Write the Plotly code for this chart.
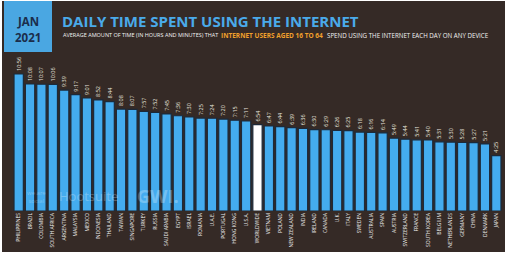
import plotly.graph_objects as go

countries = [
    "PHILIPPINES", "BRAZIL", "COLOMBIA", "SOUTH AFRICA", "ARGENTINA", "MALAYSIA",
    "MEXICO", "INDONESIA", "THAILAND", "TAIWAN", "SINGAPORE", "TURKEY", "RUSSIA",
    "SAUDI ARABIA", "EGYPT", "ISRAEL", "ROMANIA", "U.A.E.", "PORTUGAL", "HONG KONG",
    "U.S.A.", "WORLDWIDE", "VIETNAM", "POLAND", "NEW ZEALAND", "INDIA", "IRELAND",
    "CANADA", "U.K.", "ITALY", "SWEDEN", "AUSTRALIA", "SPAIN", "AUSTRIA",
    "SWITZERLAND", "FRANCE", "SOUTH KOREA", "BELGIUM", "NETHERLANDS", "GERMANY",
    "CHINA", "DENMARK", "JAPAN",
]
times = [
    "10:56", "10:08", "10:07", "10:06", "9:39", "9:17",
    "9:01", "8:52", "8:44", "8:08", "8:07", "7:57", "7:52",
    "7:45", "7:36", "7:30", "7:25", "7:24", "7:20", "7:15",
    "7:11", "6:54", "6:47", "6:44", "6:39", "6:36", "6:30",
    "6:29", "6:26", "6:25", "6:18", "6:16", "6:14", "5:49",
    "5:44", "5:41", "5:40", "5:31", "5:30", "5:28",
    "5:27", "5:21", "4:25",
]
highlight = "WORLDWIDE"

minutes = [int(t.split(":")[0]) * 60 + int(t.split(":")[1]) for t in times]

W, H = 509, 256
ML, MR, MT, MB = 13, 7, 60, 45
PW = W - ML - MR
PH = H - MT - MB


def fx(px):
    return (px - ML) / PW


def fy(py):
    return (H - MB - py) / PH


BG = "#352a26"
BLUE = "#44acef"
colors = ["#ffffff" if c == highlight else BLUE for c in countries]

fig = go.Figure(
    go.Bar(
        x=countries,
        y=minutes,
        text=times,
        textposition="outside",
        textangle=-90,
        textfont=dict(size=5.5, color="#e8e4df", family="Open Sans"),
        marker=dict(color=colors, line=dict(color="#1c2a3a", width=1.2)),
        cliponaxis=False,
        constraintext="none",
        hoverinfo="skip",
    )
)

shapes = [
    dict(type="rect", xref="paper", yref="paper", x0=fx(2), x1=fx(505), y0=fy(252), y1=fy(1),
         fillcolor=BG, line=dict(width=0), layer="below"),
    dict(type="rect", xref="paper", yref="paper", x0=fx(4), x1=fx(52), y0=fy(52), y1=fy(1),
         fillcolor="#4aa7e2", line=dict(width=0), layer="below"),
]

sub_font = dict(size=6.2, color="#f2f2f2", family="Open Sans")
annotations = [
    dict(text="<b>JAN</b>", x=fx(28), y=fy(21), xref="paper", yref="paper", showarrow=False,
         xanchor="center", yanchor="middle", font=dict(size=11.5, color="#1b2d4b", family="Open Sans")),
    dict(text="<b>2021</b>", x=fx(28), y=fy(37), xref="paper", yref="paper", showarrow=False,
         xanchor="center", yanchor="middle", font=dict(size=11.5, color="#1b2d4b", family="Open Sans")),
    dict(text="<b>DAILY TIME SPENT USING THE INTERNET</b>", x=fx(60), y=fy(21.5), xref="paper", yref="paper",
         showarrow=False, xanchor="left", yanchor="middle",
         font=dict(size=15, color="#4aaaea", family="Open Sans")),
    dict(text="AVERAGE AMOUNT OF TIME (IN HOURS AND MINUTES) THAT",
         x=fx(61), y=fy(35.5), xref="paper", yref="paper", showarrow=False,
         xanchor="left", yanchor="middle", font=dict(size=5.5, color="#f2f2f2", family="Open Sans")),
    dict(text="<b>INTERNET USERS AGED 16 TO 64</b>",
         x=fx(219), y=fy(35.5), xref="paper", yref="paper", showarrow=False,
         xanchor="left", yanchor="middle", font=dict(size=6.5, color="#f0a02c", family="Open Sans")),
    dict(text="SPEND USING THE INTERNET EACH DAY ON ANY DEVICE",
         x=fx(325), y=fy(35.5), xref="paper", yref="paper", showarrow=False,
         xanchor="left", yanchor="middle", font=sub_font),
    dict(text="we are<br>social", x=fx(36), y=fy(197), xref="paper", yref="paper", showarrow=False,
         xanchor="center", yanchor="middle", opacity=0.25,
         font=dict(size=6, color="#ffffff", family="Open Sans")),
    dict(text="Hootsuite", x=fx(88), y=fy(196), xref="paper", yref="paper", showarrow=False,
         xanchor="center", yanchor="middle", opacity=0.25,
         font=dict(size=13, color="#ffffff", family="Open Sans")),
    dict(text="<b>GWI.</b>", x=fx(158), y=fy(196), xref="paper", yref="paper", showarrow=False,
         xanchor="center", yanchor="middle", opacity=0.25,
         font=dict(size=18, color="#ffffff", family="Open Sans")),
]

fig.update_layout(
    width=W,
    height=H,
    margin=dict(l=ML, r=MR, t=MT, b=MB, autoexpand=False),
    paper_bgcolor="#ffffff",
    plot_bgcolor="rgba(0,0,0,0)",
    bargap=0.18,
    showlegend=False,
    shapes=shapes,
    annotations=annotations,
    xaxis=dict(
        tickangle=-90,
        tickfont=dict(size=5, color="#f0f0f0", family="Open Sans"),
        showgrid=False,
        showline=False,
        zeroline=False,
        ticks="",
        automargin=False,
        fixedrange=True,
        nticks=100,
    ),
    yaxis=dict(visible=False, range=[0, 723], fixedrange=True, automargin=False),
)

fig.write_html(
    "out.html",
    config={"displayModeBar": False},
    post_script="document.body.style.margin='0';document.body.style.overflow='hidden';",
)
